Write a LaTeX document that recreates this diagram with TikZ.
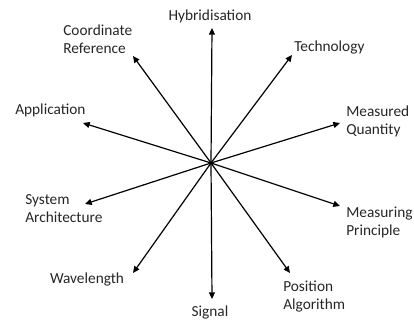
\documentclass[tikz,border=0pt]{standalone}
\usepackage{fontspec}
\setmainfont{Carlito}
\usetikzlibrary{arrows.meta, positioning}

\begin{document}
\begin{tikzpicture}[
    x=0.75pt, y=-0.75pt,
    label/.style={inner sep=0pt, font=\fontsize{11.5}{13.5}\selectfont, align=left, text=black!85},
    arrow/.style={-{Triangle[length=5pt, width=4.5pt]}, line width=0.9pt}
]
\useasboundingbox (0, 0) rectangle (414, 323);

% hub
\coordinate (hub) at (211, 163);

% labels
\node[label] (hybrid) at (210, 16) {Hybridisation};
\node[label, anchor=west] (techno) at (294, 48) {Technology};
\node[label, anchor=west] (quantity) at (346, 121) {Measured\\Quantity};
\node[label, anchor=west] (principle) at (346, 222) {Measuring\\Principle};
\node[label, anchor=west] (algo) at (283, 297) {Position\\Algorithm};
\node[label] (signal) at (210, 312) {Signal};
\node[label] (wave) at (87, 279) {Wavelength};
\node[label, anchor=west] (arch) at (25, 209) {System\\Architecture};
\node[label, anchor=west] (appl) at (15, 110) {Application};
\node[label, anchor=west] (coord) at (63, 39) {Coordinate\\Reference};

% arrow tips
\coordinate (hybridtip) at (212, 28);
\coordinate (technotip) at (292, 55);
\coordinate (quantitytip) at (340, 123);
\coordinate (principletip) at (340, 206);
\coordinate (algotip) at (290, 273);
\coordinate (signaltip) at (212, 299);
\coordinate (wavetip) at (133, 273);
\coordinate (archtip) at (85, 204);
\coordinate (appltip) at (83, 123);
\coordinate (coordtip) at (133, 56);

% spokes
\foreach \t in {hybridtip, technotip, quantitytip, principletip, algotip, signaltip, wavetip, archtip, appltip, coordtip}
    \draw[arrow] (hub) -- (\t);

\end{tikzpicture}
\end{document}
